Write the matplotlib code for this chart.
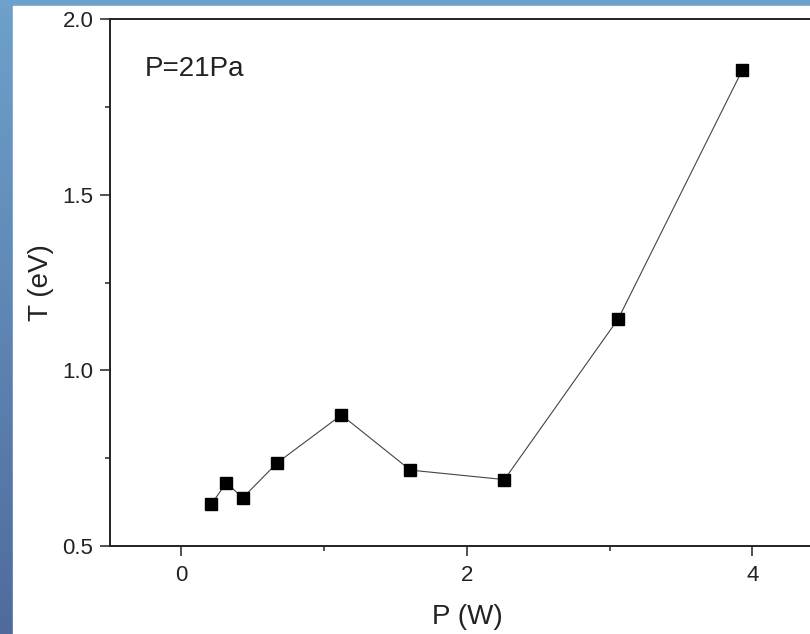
import numpy as np
import matplotlib
matplotlib.use("Agg")
import matplotlib.pyplot as plt
from matplotlib.ticker import MultipleLocator

plt.rcParams['font.family'] = ['Liberation Sans', 'DejaVu Sans']

power_w = [0.21, 0.315, 0.43, 0.672, 1.121, 1.604, 2.263, 3.061, 3.930]
temp_ev = [0.619, 0.680, 0.637, 0.737, 0.873, 0.716, 0.689, 1.147, 1.855]
annotation = "P=21Pa"
x_label = "P (W)"
y_label = "T (eV)"

W, H = 810, 634
fig = plt.figure(figsize=(W / 100, H / 100), dpi=100)

# background frame with blue gradient
bg = fig.add_axes([0, 0, 1, 1])
top_c = np.array([0.43, 0.63, 0.80])
bot_c = np.array([0.31, 0.42, 0.62])
t = np.linspace(0, 1, 256)[:, None]
grad = (top_c[None, :] * (1 - t) + bot_c[None, :] * t)[:, None, :]
bg.imshow(grad, aspect='auto', extent=[0, 1, 0, 1], origin='upper')
bg.add_patch(plt.Rectangle((13 / W, 0), 1, 1 - 6 / H, color='white', zorder=2))
bg.set_xlim(0, 1)
bg.set_ylim(0, 1)
bg.axis('off')

left = 110 / W
bottom = (H - 546) / H
height = (546 - 19) / H
width = 5 * 142.75 / W
ax = fig.add_axes([left, bottom, width, height])
ax.set_facecolor('white')

ax.plot(power_w, temp_ev, color='#444444', lw=0.8, marker='s', ms=8.5,
        mfc='black', mec='black', clip_on=False)

ax.set_xlim(-0.5, 4.5)
ax.set_ylim(0.5, 2.0)
ax.xaxis.set_major_locator(MultipleLocator(2))
ax.xaxis.set_minor_locator(MultipleLocator(1))
ax.yaxis.set_major_locator(MultipleLocator(0.5))
ax.yaxis.set_minor_locator(MultipleLocator(0.25))
ax.xaxis.set_major_formatter(matplotlib.ticker.FormatStrFormatter('%d'))
ax.yaxis.set_major_formatter(matplotlib.ticker.FormatStrFormatter('%.1f'))

ax.tick_params(which='major', direction='out', length=7, width=1.1,
               labelsize=16, color='#222222', labelcolor='#222222')
ax.tick_params(axis='x', which='major', pad=7)
ax.tick_params(axis='y', which='major', pad=5)
ax.tick_params(which='minor', direction='out', length=3.5, width=1.1, color='#222222')
ax.tick_params(top=False, right=False, which='both')

for s in ax.spines.values():
    s.set_linewidth(1.4)
    s.set_color('#222222')

ax.set_xlabel(x_label, fontsize=20, color='#222222', labelpad=13)
ax.set_ylabel(y_label, fontsize=20, color='#222222', labelpad=6)

ax.text(0.049, 0.905, annotation, transform=ax.transAxes, fontsize=20,
        color='#222222', ha='left', va='center')

fig.savefig('out.png', dpi=100)
